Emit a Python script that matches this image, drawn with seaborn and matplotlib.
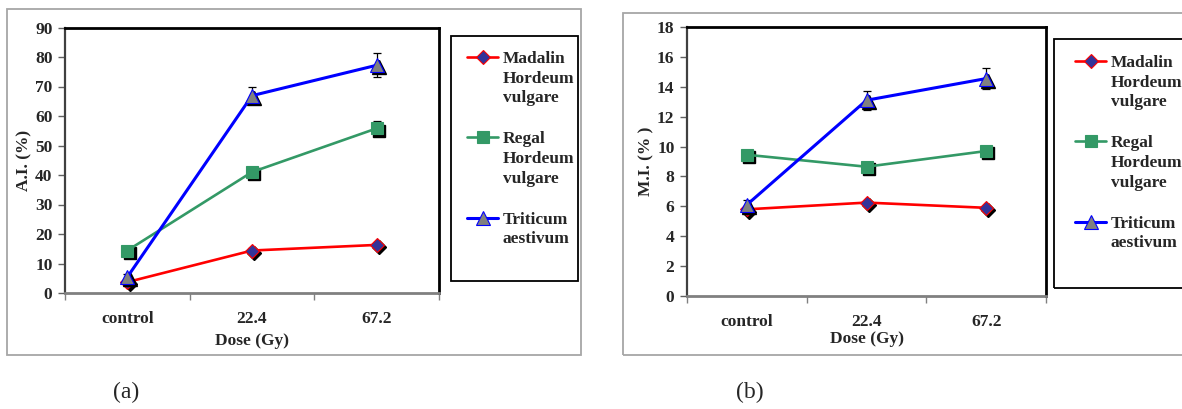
import numpy as np
import pandas as pd
import matplotlib
matplotlib.use("Agg")
import matplotlib.pyplot as plt
import seaborn as sns
from matplotlib.patches import Rectangle
from matplotlib.transforms import ScaledTranslation

# data
doses = ["control", "22.4", "67.2"]

ai_madalin = [3.7, 14.4, 16.3]
ai_regal = [14.4, 41.0, 55.8]
ai_triticum = [5.4, 66.9, 77.2]
ai_madalin_err = [0.5, 0.8, 0.8]
ai_regal_err = [1.0, 1.2, 2.6]
ai_triticum_err = [1.0, 3.0, 4.0]

mi_madalin = [5.8, 6.25, 5.9]
mi_regal = [9.45, 8.65, 9.7]
mi_triticum = [6.1, 13.1, 14.55]
mi_madalin_err = [0.1, 0.1, 0.1]
mi_regal_err = [0.15, 0.15, 0.15]
mi_triticum_err = [0.35, 0.65, 0.7]

labels = ["Madalin\nHordeum\nvulgare", "Regal\nHordeum\nvulgare", "Triticum\naestivum"]
line_colors = ["#ff0000", "#339966", "#0000ff"]
face_colors = ["#333399", "#339966", "#808080"]
edge_colors = ["#ff0000", "#339966", "#0000ff"]
markers = ["D", "s", "^"]
msizes = [7, 8, 10]
lwidths = [1.9, 1.9, 2.2]
FS = 12.5

sns.set_theme(style="white")
plt.rcParams["font.family"] = ["Liberation Serif", "DejaVu Serif"]
plt.rcParams["font.weight"] = "bold"
plt.rcParams["axes.labelweight"] = "bold"

W, H = 1182, 409
fig = plt.figure(figsize=(W / 100, H / 100), dpi=100)
fig.patch.set_facecolor("white")

# outer chart boxes and legend boxes (Excel style)
for (x0, y0, x1, y1), col in [((7, 9, 581, 355), "#a6a6a6"), ((623, 13, 1190, 355), "#a6a6a6"),
                              ((451, 36, 578, 281), "black"), ((1054, 39, 1190, 288), "black")]:
    fig.add_artist(Rectangle((x0 / W, 1 - y1 / H), (x1 - x0) / W, (y1 - y0) / H,
                             transform=fig.transFigure, fill=False, edgecolor=col, linewidth=1.3))


def panel(rect, series, errs, ylim, yticks, ylabel, leg_xy, xlabelpad):
    ax = fig.add_axes(rect)
    shadow = ax.transData + ScaledTranslation(1.6 / 72, -1.6 / 72, fig.dpi_scale_trans)
    for i, (vals, err) in enumerate(zip(series, errs)):
        df = pd.DataFrame({"dose": doses, "value": vals})
        ax.errorbar(doses, vals, yerr=err, fmt="none", ecolor="black", elinewidth=0.9,
                    capsize=3, capthick=0.9, zorder=2 + i)
        ax.plot(doses, vals, linestyle="none", marker=markers[i], markersize=msizes[i],
                color="black", transform=shadow, zorder=2 + i)
        sns.lineplot(data=df, x="dose", y="value", ax=ax, sort=False, color=line_colors[i],
                     linewidth=lwidths[i], marker=markers[i], markersize=msizes[i],
                     markerfacecolor=face_colors[i], markeredgecolor=edge_colors[i],
                     markeredgewidth=0.8, label=labels[i], zorder=2.5 + i)
    ax.set_xlim(-0.5, 2.5)
    ax.set_ylim(*ylim)
    ax.set_yticks(yticks)
    ax.set_xticks([0, 1, 2])
    ax.set_xticklabels(doses)
    ax.set_xticks([-0.5, 0.5, 1.5, 2.5], minor=True)
    ax.tick_params(axis="x", which="major", length=0, pad=13, labelsize=FS)
    ax.tick_params(axis="x", which="minor", length=5, width=1, color="#808080", direction="out", bottom=True)
    ax.tick_params(axis="y", length=5, width=1, color="#606060", direction="out", left=True, pad=4, labelsize=FS)
    for lab in ax.get_xticklabels() + ax.get_yticklabels():
        lab.set_fontweight("bold")
    ax.set_xlabel("Dose (Gy)", fontsize=FS, labelpad=xlabelpad)
    ax.set_ylabel(ylabel, fontsize=FS, labelpad=2)
    for side in ["top", "right"]:
        ax.spines[side].set_color("black")
        ax.spines[side].set_linewidth(2)
    ax.spines["left"].set_color("#404040")
    ax.spines["left"].set_linewidth(1.6)
    ax.spines["bottom"].set_color("#808080")
    ax.spines["bottom"].set_linewidth(2)
    ax.grid(False)

    leg = ax.legend(loc="upper left", bbox_to_anchor=(leg_xy[0] / W, 1 - leg_xy[1] / H),
                    bbox_transform=fig.transFigure, frameon=False, borderpad=0, borderaxespad=0,
                    handlelength=1.8, handletextpad=0.25, labelspacing=1.45,
                    prop={"family": "Liberation Serif", "weight": "bold", "size": FS})
    for t in leg.get_texts():
        t.set_linespacing(1.3)
    for col in leg._legend_handle_box.get_children():
        for row in col.get_children():
            row.align = "top"
    return ax


panel([65 / W, 1 - 293 / H, 374 / W, 265.5 / H],
      [ai_madalin, ai_regal, ai_triticum], [ai_madalin_err, ai_regal_err, ai_triticum_err],
      (0, 90), np.arange(0, 91, 10), "A.I. (%)", (467, 51), 4)
panel([687 / W, 1 - 296 / H, 359 / W, 269 / H],
      [mi_madalin, mi_regal, mi_triticum], [mi_madalin_err, mi_regal_err, mi_triticum_err],
      (0, 18), np.arange(0, 19, 2), "M.I. (% )", (1075, 55), 1)

fig.text(126 / W, 1 - 392 / H, "(a)", ha="center", va="center", fontsize=17, fontweight="normal")
fig.text(750 / W, 1 - 392 / H, "(b)", ha="center", va="center", fontsize=17, fontweight="normal")

fig.savefig("out.png", dpi=100)
